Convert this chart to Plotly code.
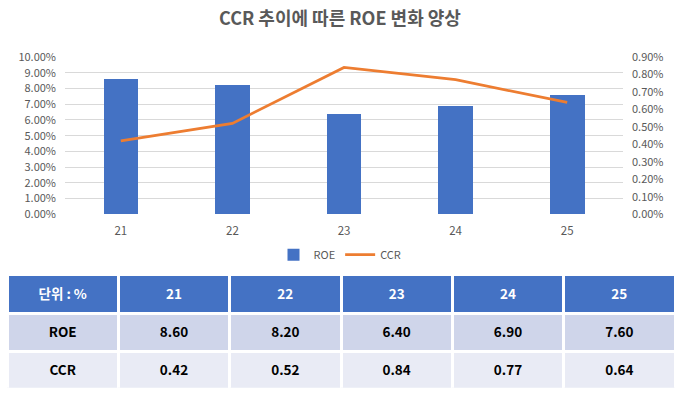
import plotly.graph_objects as go

categories = ["21", "22", "23", "24", "25"]
roe = [8.60, 8.20, 6.40, 6.90, 7.60]
ccr = [0.42, 0.52, 0.84, 0.77, 0.64]
title_text = "CCR 추이에 따른 ROE 변화 양상"
table_corner = "단위 : %"

W, H = 680, 395
FONT = "Noto Sans CJK KR"
GREY = "#595959"

def py(px):
    return (H - px) / H

fig = go.Figure()
fig.add_trace(go.Bar(x=categories, y=roe, name="ROE", marker=dict(color="#4472C4", line=dict(width=0)),
                     width=0.31, yaxis="y"))
fig.add_trace(go.Scatter(x=categories, y=ccr, name="CCR", mode="lines",
                         line=dict(color="#ED7D31", width=2.75), yaxis="y2"))

header_vals = [table_corner] + categories
cell_vals = [["ROE", "CCR"]] + [[f"{r:.2f}", f"{c:.2f}"] for r, c in zip(roe, ccr)]
fig.add_trace(go.Table(
    domain=dict(x=[7 / W, 675 / W], y=[0, py(277)]),
    columnwidth=[1] * 6,
    header=dict(values=[f"<b>{v}</b>" for v in header_vals],
                fill_color="#4472C4", line=dict(color="white", width=3),
                align="center", height=38.5,
                font=dict(family=FONT, size=13.5, color="white")),
    cells=dict(values=[[f"<b>{v}</b>" for v in col] for col in cell_vals],
               fill_color=[["#CFD5EA", "#E9EBF5"]],
               line=dict(color="white", width=3),
               align="center", height=38,
               font=dict(family=FONT, size=13.5, color="black")),
))

fig.update_layout(
    width=W, height=H,
    margin=dict(l=0, r=0, t=0, b=0),
    paper_bgcolor="white", plot_bgcolor="white",
    font=dict(family=FONT, color=GREY),
    title=dict(text=f"<b>{title_text}</b>", x=0.5, xanchor="center", y=py(19), yanchor="middle",
               font=dict(family=FONT, size=18, color=GREY)),
    xaxis=dict(domain=[65 / W, 623 / W], anchor="y", showgrid=False, showline=False, ticks="",
               tickfont=dict(size=11.5, color=GREY), ticklabelstandoff=8),
    yaxis=dict(domain=[py(214), py(50)], range=[0, 10], dtick=1, ticksuffix="%", tickformat=".2f",
               showgrid=True, gridcolor="#D9D9D9", gridwidth=1, zeroline=False, showline=False,
               ticks="", tickfont=dict(size=11, color=GREY), ticklabelstandoff=8),
    yaxis2=dict(overlaying="y", side="right", range=[0, 0.9], dtick=0.1, ticksuffix="%", tickformat=".2f",
                showgrid=False, zeroline=False, showline=False, ticks="",
                tickfont=dict(size=11, color=GREY), ticklabelstandoff=8),
    legend=dict(orientation="h", x=0.5, xanchor="center", y=py(256), yanchor="middle",
                font=dict(size=11, color=GREY), itemwidth=30, traceorder="normal"),
    bargap=0,
)

fig.write_html("out.html", config={"displayModeBar": False},
               post_script="document.body.style.margin='0';document.body.style.overflow='hidden';")
